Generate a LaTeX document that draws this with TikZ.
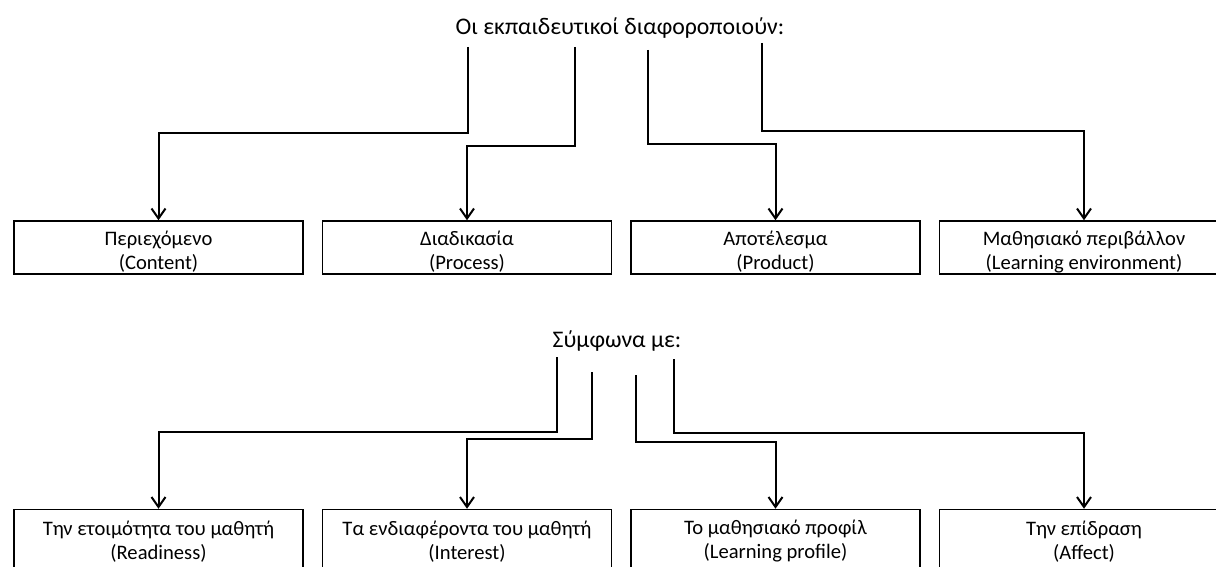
\documentclass[tikz,border=0pt]{standalone}
\usepackage{fontspec}
\setmainfont{Carlito}
\usetikzlibrary{arrows.meta, positioning, calc}
\tikzset{
    heading/.style={font=\fontsize{23.8}{28}\selectfont, inner sep=0pt, anchor=base},
    box/.style={rectangle, draw, line width=1.5pt, minimum width=289pt, minimum height=53pt, inner sep=0pt, align=center, font=\fontsize{20.6}{24}\selectfont},
    topbox/.style={box, text height=47pt, text depth=4pt},
    lowbox/.style={box, minimum height=64pt},
    arrow/.style={line width=2pt, -{Straight Barb[length=10pt, width=14pt]}}
}

\begin{document}
\begin{tikzpicture}[x=1pt, y=1pt]
    \useasboundingbox (0,0) rectangle (1216,-567);
    \clip (0,0) rectangle (1216,-567);
    % what teachers differentiate
    \node (ways) [heading] at (620,-35) {Οι εκπαιδευτικοί διαφοροποιούν:};
    \node (content) [topbox] at (158.5,-247.5) {Περιεχόμενο\\(Content)};
    \node (process) [topbox, right=18pt of content] {Διαδικασία\\(Process)};
    \node (product) [topbox, right=18pt of process] {Αποτέλεσμα\\(Product)};
    \node (environment) [topbox, right=18pt of product] {Μαθησιακό περιβάλλον\\(Learning environment)};
    \coordinate (w1) at (468,-47);
    \coordinate (w2) at (575,-47);
    \coordinate (w3) at (648,-50);
    \coordinate (w4) at (762,-43);
    \draw [arrow] (w1) -- ++(0,-86) -| (content.north);
    \draw [arrow] (w2) -- ++(0,-99) -| (process.north);
    \draw [arrow] (w3) -- ++(0,-94) -| (product.north);
    \draw [arrow] (w4) -- ++(0,-88) -| (environment.north);

    % according to
    \node (accord) [heading] at (617,-347) {Σύμφωνα με:};
    \node (readiness) [lowbox, below=234pt of content] {Την ετοιμότητα του μαθητή\\(Readiness)};
    \node (interest) [lowbox, right=18pt of readiness] {Τα ενδιαφέροντα του μαθητή\\(Interest)};
    \node (profile) [lowbox, right=18pt of interest] {Το μαθησιακό προφίλ\\(Learning profile)};
    \node (affect) [lowbox, right=18pt of profile] {Την επίδραση\\(Affect)};
    \coordinate (a1) at (557,-357);
    \coordinate (a2) at (592,-372);
    \coordinate (a3) at (636,-375);
    \coordinate (a4) at (674,-359);
    \draw [arrow] (a1) -- ++(0,-75) -| (readiness.north);
    \draw [arrow] (a2) -- ++(0,-67) -| (interest.north);
    \draw [arrow] (a3) -- ++(0,-67) -| (profile.north);
    \draw [arrow] (a4) -- ++(0,-74) -| (affect.north);
\end{tikzpicture}
\end{document}
